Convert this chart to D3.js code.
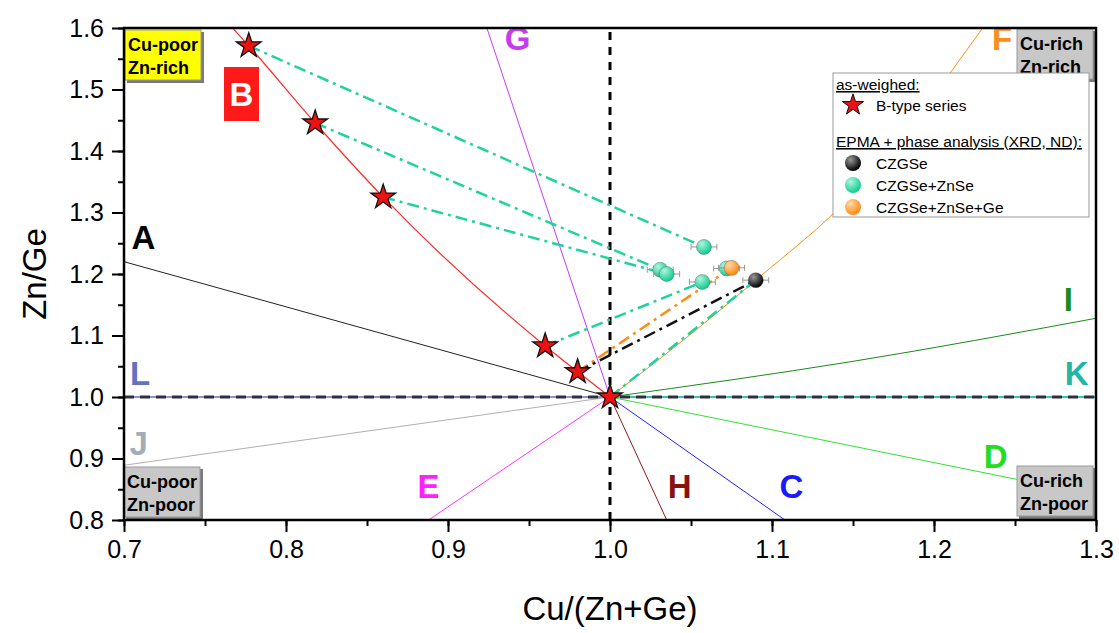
<!DOCTYPE html>
<html>
<head>
<meta charset="utf-8">
<script src="https://cdn.jsdelivr.net/npm/d3@7"></script>
<style>
  body { margin: 0; background: #fff; }
  svg { font-family: Arial, "Liberation Sans", sans-serif; }
</style>
</head>
<body>
<div id="chart"></div>
<script>
// reference lines, all starting at the stoichiometric point (1, 1)
const lineA = [[0.7, 1.22], [1.0, 1.0]];
const lineB = [[0.767, 1.6], [0.777, 1.571], [0.818, 1.4455], [0.86, 1.325], [0.96, 1.083], [0.98, 1.041], [1.0, 1.0]];
const lineC = [[1.0, 1.0], [1.108, 0.8]];
const lineD = [[1.0, 1.0], [1.3, 0.84]];
const lineE = [[1.0, 1.0], [0.888, 0.8]];
const lineF = [[1.0, 1.0], [1.05, 1.1025], [1.09, 1.19], [1.15, 1.33], [1.23, 1.6]];
const lineG = [[1.0, 1.0], [0.924, 1.6]];
const lineH = [[1.0, 1.0], [1.035, 0.8]];
const lineI = [[1.0, 1.0], [1.15, 1.058], [1.3, 1.128]];
const lineJ = [[0.7, 0.889], [1.0, 1.0]];
const lineK = [[1.0, 1.0], [1.3, 1.0]];
const lineL = [[0.7, 1.0], [1.0, 1.0]];

// as-weighed B-type series
const starX = [0.777, 0.818, 0.86, 0.96, 0.98, 1.0];
const starY = [1.571, 1.4455, 1.325, 1.083, 1.041, 1.0];

// EPMA results
const czgseX = [1.09];
const czgseY = [1.19];
const znseX = [1.058, 1.031, 1.035, 1.057, 1.072];
const znseY = [1.244, 1.207, 1.200, 1.187, 1.209];
const geX = [1.075];
const geY = [1.21];
const errX = 0.008;
const errY = 0.006;

// tie lines: [star index, target series, target index]
const ties = [
  [0, 'znse', 0], [1, 'znse', 1], [2, 'znse', 2], [3, 'znse', 3],
  [4, 'ge', 0], [4, 'czgse', 0], [5, 'znse-c', 0]
];

const xTicks = [0.7, 0.8, 0.9, 1.0, 1.1, 1.2, 1.3];
const yTicks = [0.8, 0.9, 1.0, 1.1, 1.2, 1.3, 1.4, 1.5, 1.6];

const width = 1119;
const height = 633;
const margin = { top: 28, right: 23, bottom: 113, left: 124 };

const svg = d3.select('#chart')
  .append('svg')
  .attr('width', width)
  .attr('height', height);

const x = d3.scaleLinear().domain([0.7, 1.3]).range([margin.left, width - margin.right]);
const y = d3.scaleLinear().domain([0.8, 1.6]).range([height - margin.bottom, margin.top]);

const defs = svg.append('defs');
defs.append('clipPath').attr('id', 'plot')
  .append('rect')
  .attr('x', x(0.7)).attr('y', y(1.6))
  .attr('width', x(1.3) - x(0.7)).attr('height', y(0.8) - y(1.6));

function sphere(id, light, dark) {
  const g = defs.append('radialGradient').attr('id', id)
    .attr('cx', '35%').attr('cy', '30%').attr('r', '70%');
  g.append('stop').attr('offset', '0%').attr('stop-color', light);
  g.append('stop').attr('offset', '100%').attr('stop-color', dark);
}
sphere('gBlack', '#9a9a9a', '#000000');
sphere('gTeal', '#b0f5de', '#10cc90');
sphere('gOrange', '#ffdcaa', '#ff8810');

const plot = svg.append('g').attr('clip-path', 'url(#plot)');
const line = d3.line().x(d => x(d[0])).y(d => y(d[1]));
const curve = d3.line().x(d => x(d[0])).y(d => y(d[1])).curve(d3.curveMonotoneX);

const refLines = [
  [lineL, '#8c94d0', 2], [lineK, '#3cc2b0', 2],
  [lineA, '#222222', 1], [lineC, '#2020ff', 1], [lineD, '#33e033', 1],
  [lineE, '#ff33ff', 1], [lineG, '#c040f0', 1], [lineH, '#8b1a1a', 1],
  [lineJ, '#b0b0b0', 1]
];
refLines.forEach(([d, c, w]) => {
  plot.append('path').datum(d).attr('d', line)
    .attr('fill', 'none').attr('stroke', c).attr('stroke-width', w);
});
plot.append('path').datum(lineB).attr('d', curve)
  .attr('fill', 'none').attr('stroke', '#ff2a2a').attr('stroke-width', 1.2);
plot.append('path').datum(lineF).attr('d', curve)
  .attr('fill', 'none').attr('stroke', '#ff8c1a').attr('stroke-width', 1);
plot.append('path').datum(lineI).attr('d', curve)
  .attr('fill', 'none').attr('stroke', '#1a8a1a').attr('stroke-width', 1);

// dashed guides at x = 1 and y = 1
plot.append('line')
  .attr('x1', x(0.7)).attr('x2', x(1.3)).attr('y1', y(1)).attr('y2', y(1))
  .attr('stroke', '#2e3040').attr('stroke-width', 3).attr('stroke-dasharray', '10,6');
plot.append('line')
  .attr('x1', x(1)).attr('x2', x(1)).attr('y1', y(0.8)).attr('y2', y(1.6))
  .attr('stroke', '#000').attr('stroke-width', 3).attr('stroke-dasharray', '8,7');

// tie lines
const series = {
  znse: [znseX, znseY], 'znse-c': [czgseX, czgseY], ge: [geX, geY], czgse: [czgseX, czgseY]
};
const tieColor = { znse: '#1fd39c', 'znse-c': '#1fd39c', ge: '#ff8c1a', czgse: '#111' };
ties.forEach(([i, s, j]) => {
  plot.append('line')
    .attr('x1', x(starX[i])).attr('y1', y(starY[i]))
    .attr('x2', x(series[s][0][j])).attr('y2', y(series[s][1][j]))
    .attr('stroke', tieColor[s]).attr('stroke-width', 2.5)
    .attr('stroke-dasharray', '12,5,3,5');
});

// EPMA points with error bars
function points(xs, ys, fill) {
  const g = plot.append('g');
  xs.forEach((xv, i) => {
    const yv = ys[i];
    const eb = g.append('g').attr('stroke', '#999').attr('stroke-width', 1);
    eb.append('line').attr('x1', x(xv - errX)).attr('x2', x(xv + errX)).attr('y1', y(yv)).attr('y2', y(yv));
    eb.append('line').attr('x1', x(xv)).attr('x2', x(xv)).attr('y1', y(yv - errY)).attr('y2', y(yv + errY));
    [xv - errX, xv + errX].forEach(e => eb.append('line')
      .attr('x1', x(e)).attr('x2', x(e)).attr('y1', y(yv) - 3).attr('y2', y(yv) + 3));
    g.append('circle').attr('cx', x(xv)).attr('cy', y(yv)).attr('r', 7.5)
      .attr('fill', fill).attr('stroke', '#555').attr('stroke-width', 0.4);
  });
}
points(znseX, znseY, 'url(#gTeal)');
points(geX, geY, 'url(#gOrange)');
points(czgseX, czgseY, 'url(#gBlack)');

// stars
const star = d3.symbol(d3.symbolStar, 190);
plot.selectAll('.star')
  .data(starX)
  .enter()
  .append('path')
  .attr('d', star)
  .attr('transform', (d, i) => `translate(${x(d)},${y(starY[i])})`)
  .attr('fill', '#ee1111').attr('stroke', '#111').attr('stroke-width', 1.3);

// line letters
const letters = [
  ['A', 0.712, 1.24, '#000'], ['C', 1.112, 0.835, '#1a1aff'], ['D', 1.238, 0.885, '#22dd22'],
  ['E', 0.888, 0.835, '#ff22ff'], ['F', 1.242, 1.565, '#ff8c1a'], ['G', 0.943, 1.565, '#c43cee'],
  ['H', 1.043, 0.835, '#8b1010'], ['I', 1.283, 1.14, '#1a8a1a'], ['J', 0.709, 0.905, '#a4acb8'],
  ['K', 1.288, 1.02, '#25b5a5'], ['L', 0.71, 1.02, '#6670c0']
];
svg.selectAll('.letter')
  .data(letters)
  .enter()
  .append('text')
  .attr('x', d => x(d[1]))
  .attr('y', d => y(d[2]))
  .attr('fill', d => d[3])
  .attr('font-size', 33).attr('font-weight', 'bold')
  .attr('text-anchor', 'middle')
  .text(d => d[0]);

// B label box
svg.append('rect').attr('x', 224).attr('y', 67).attr('width', 35).attr('height', 54).attr('fill', '#ff1a1a');
svg.append('text').attr('x', 241.5).attr('y', 106).attr('fill', '#fff')
  .attr('font-size', 33).attr('font-weight', 'bold').attr('text-anchor', 'middle').text('B');

// corner boxes
const corners = [
  [125, 30, '#ffff00', 'Cu-poor', 'Zn-rich'],
  [1017, 29, '#c8c8c8', 'Cu-rich', 'Zn-rich'],
  [1017, 466, '#c8c8c8', 'Cu-rich', 'Zn-poor'],
  [124, 467, '#c8c8c8', 'Cu-poor', 'Zn-poor']
];
corners.forEach(([bx, by, c, t1, t2]) => {
  const g = svg.append('g');
  g.append('rect').attr('x', bx + 2).attr('y', by + 2).attr('width', 77).attr('height', 51).attr('fill', '#7a7a7a');
  g.append('rect').attr('x', bx).attr('y', by).attr('width', 76).attr('height', 50)
    .attr('fill', c).attr('stroke', '#9a9a9a').attr('stroke-width', 1);
  g.append('text').attr('x', bx + 3).attr('y', by + 21).attr('font-size', 18).attr('font-weight', 'bold').text(t1);
  g.append('text').attr('x', bx + 3).attr('y', by + 44).attr('font-size', 18).attr('font-weight', 'bold').text(t2);
});

// axes
svg.append('rect')
  .attr('x', x(0.7)).attr('y', y(1.6))
  .attr('width', x(1.3) - x(0.7)).attr('height', y(0.8) - y(1.6))
  .attr('fill', 'none').attr('stroke', '#000').attr('stroke-width', 2.5);

const xAxis = svg.append('g')
  .attr('transform', `translate(0,${y(0.8)})`)
  .call(d3.axisBottom(x).tickValues(d3.range(0.7, 1.3001, 0.05)).tickSize(6).tickFormat(''));
xAxis.append('g').call(d3.axisBottom(x).tickValues(xTicks).tickSize(12).tickPadding(8).tickFormat(d3.format('.1f')));
const yAxis = svg.append('g')
  .attr('transform', `translate(${x(0.7)},0)`)
  .call(d3.axisLeft(y).tickValues(d3.range(0.8, 1.6001, 0.05)).tickSize(6).tickFormat(''));
yAxis.append('g').call(d3.axisLeft(y).tickValues(yTicks).tickSize(12).tickPadding(8).tickFormat(d3.format('.1f')));
svg.selectAll('.domain').remove();
svg.selectAll('.tick line').attr('stroke', '#000').attr('stroke-width', 2);
svg.selectAll('.tick text').attr('font-size', 25).attr('fill', '#000')
  .attr('font-family', 'Arial, "Liberation Sans", sans-serif');

svg.append('text')
  .attr('x', x(1.0)).attr('y', 620)
  .attr('text-anchor', 'middle').attr('font-size', 33)
  .text('Cu/(Zn+Ge)');
svg.append('text')
  .attr('transform', `translate(46,${y(1.2)}) rotate(-90)`)
  .attr('text-anchor', 'middle').attr('font-size', 33)
  .text('Zn/Ge');

// legend
const fs = 15.5;
const lg = svg.append('g').attr('transform', 'translate(833,73)');
lg.append('rect').attr('width', 256).attr('height', 144)
  .attr('fill', '#fff').attr('stroke', '#999').attr('stroke-width', 1);
lg.append('text').attr('x', 3).attr('y', 17).attr('font-size', fs)
  .attr('text-decoration', 'underline').text('as-weighed:');
lg.append('path').attr('d', d3.symbol(d3.symbolStar, 140))
  .attr('transform', 'translate(20,32)').attr('fill', '#ee1111').attr('stroke', '#111').attr('stroke-width', 1);
lg.append('text').attr('x', 43).attr('y', 38).attr('font-size', fs).text('B-type series');
lg.append('text').attr('x', 3).attr('y', 74).attr('font-size', fs)
  .attr('text-decoration', 'underline').text('EPMA + phase analysis (XRD, ND):');
const legendItems = [['CZGSe', 'url(#gBlack)'], ['CZGSe+ZnSe', 'url(#gTeal)'], ['CZGSe+ZnSe+Ge', 'url(#gOrange)']];
legendItems.forEach(([t, f], i) => {
  lg.append('circle').attr('cx', 20).attr('cy', 90 + i * 22).attr('r', 8).attr('fill', f);
  lg.append('text').attr('x', 43).attr('y', 96 + i * 22).attr('font-size', fs).text(t);
});
</script>
</body>
</html>
